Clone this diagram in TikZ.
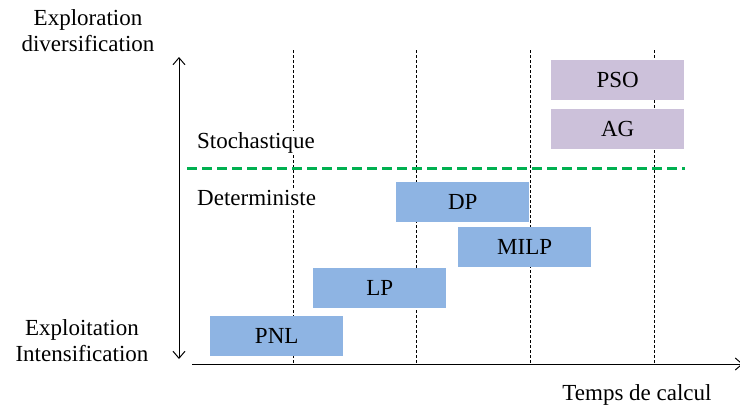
\documentclass[tikz,border=0pt]{standalone}
\usepackage{fontspec}
\setmainfont{Liberation Serif}
\usetikzlibrary{arrows.meta}
\definecolor{boxblue}{HTML}{8EB4E3}
\definecolor{boxlilac}{HTML}{CCC1DA}
\definecolor{sepgreen}{HTML}{00B050}
\begin{document}
\begin{tikzpicture}[x=1pt,y=-1pt,
  lbl/.style={font=\fontsize{23}{26}\selectfont, inner sep=0pt},
  algo/.style={lbl, minimum width=133pt, minimum height=40pt, anchor=north west},
  bluebox/.style={algo, fill=boxblue},
  lilacbox/.style={algo, fill=boxlilac},
  grid/.style={line width=0.8pt, dash pattern=on 3pt off 2pt},
  axis/.style={line width=1pt, -{Straight Barb[length=7pt,width=12pt]}},
  sep/.style={sepgreen, line width=3pt, dash pattern=on 10pt off 5pt}]
\useasboundingbox (0,0) rectangle (740,410);
% grid lines
\foreach \x/\n in {293/a,416/b,530/c,654/d}{
  \coordinate (g\n t) at (\x,50);
  \coordinate (g\n b) at (\x,364);
  \draw[grid] (g\n t) -- (g\n b);
}
% separator
\coordinate (sl) at (187,168);
\coordinate (sr) at (685,168);
\draw[sep] (sl) -- (sr);
% axes
\coordinate (vt) at (179,57);
\coordinate (vb) at (179,359);
\draw[axis, {Straight Barb[length=7pt,width=12pt]}-{Straight Barb[length=7pt,width=12pt]}] (vt) -- (vb);
\coordinate (hl) at (192,364);
\coordinate (hr) at (743,364);
\draw[axis] (hl) -- (hr);
% labels
\node[lbl, fill=white, inner sep=2pt, anchor=west] (stoch) at (195,143) {Stochastique};
\node[lbl, fill=white, inner sep=2pt, anchor=west] (det) at (195,198) {Deterministe};
\node[lbl, align=center] (expl) at (88,31) {Exploration\\diversification};
\node[lbl, align=center] (exploit) at (82,341) {Exploitation\\Intensification};
\node[lbl] (temps) at (637,395) {Temps de calcul};
% boxes
\node[lilacbox] (pso) at (551,60) {PSO};
\node[lilacbox] (ag) at (551,109) {AG};
\node[bluebox] (dp) at (396,182) {DP};
\node[bluebox] (milp) at (458,227) {MILP};
\node[bluebox] (lp) at (313,268) {LP};
\node[bluebox] (pnl) at (210,316) {PNL};
\end{tikzpicture}
\end{document}
